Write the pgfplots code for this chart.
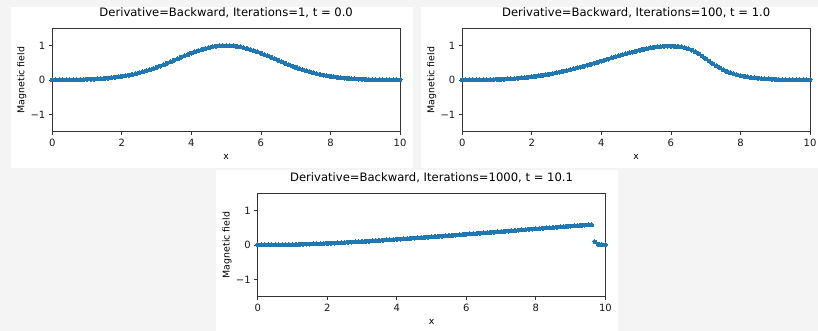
\documentclass[border=0pt]{standalone}
\usepackage{fontspec}
\setmainfont{DejaVu Sans}
\usepackage{pgfplots}
\pgfplotsset{compat=1.18}
\usepackage{pgfplotstable}
\definecolor{mplblue}{HTML}{1F77B4}
\definecolor{bggray}{RGB}{244,244,244}

\pgfplotstableread{
x y
0.0 0.0019
0.1 0.0025
0.2 0.0032
0.3 0.0040
0.4 0.0050
0.5 0.0063
0.6 0.0079
0.7 0.0098
0.8 0.0122
0.9 0.0150
1.0 0.0183
1.1 0.0223
1.2 0.0270
1.3 0.0326
1.4 0.0392
1.5 0.0468
1.6 0.0556
1.7 0.0657
1.8 0.0773
1.9 0.0905
2.0 0.1054
2.1 0.1222
2.2 0.1409
2.3 0.1616
2.4 0.1845
2.5 0.2096
2.6 0.2369
2.7 0.2665
2.8 0.2982
2.9 0.3320
3.0 0.3679
3.1 0.4056
3.2 0.4449
3.3 0.4856
3.4 0.5273
3.5 0.5698
3.6 0.6126
3.7 0.6554
3.8 0.6977
3.9 0.7390
4.0 0.7788
4.1 0.8167
4.2 0.8521
4.3 0.8847
4.4 0.9139
4.5 0.9394
4.6 0.9608
4.7 0.9778
4.8 0.9900
4.9 0.9975
5.0 1.0000
5.1 0.9975
5.2 0.9900
5.3 0.9778
5.4 0.9608
5.5 0.9394
5.6 0.9139
5.7 0.8847
5.8 0.8521
5.9 0.8167
6.0 0.7788
6.1 0.7390
6.2 0.6977
6.3 0.6554
6.4 0.6126
6.5 0.5698
6.6 0.5273
6.7 0.4856
6.8 0.4449
6.9 0.4056
7.0 0.3679
7.1 0.3320
7.2 0.2982
7.3 0.2665
7.4 0.2369
7.5 0.2096
7.6 0.1845
7.7 0.1616
7.8 0.1409
7.9 0.1222
8.0 0.1054
8.1 0.0905
8.2 0.0773
8.3 0.0657
8.4 0.0556
8.5 0.0468
8.6 0.0392
8.7 0.0326
8.8 0.0270
8.9 0.0223
9.0 0.0183
9.1 0.0150
9.2 0.0122
9.3 0.0098
9.4 0.0079
9.5 0.0063
9.6 0.0050
9.7 0.0040
9.8 0.0032
9.9 0.0025
10.0 0.0019
}\tableA

\pgfplotstableread{
x y
0.0 0.0019
0.1 0.0025
0.2 0.0032
0.3 0.0040
0.4 0.0050
0.5 0.0062
0.6 0.0078
0.7 0.0096
0.8 0.0119
0.9 0.0145
1.0 0.0177
1.1 0.0214
1.2 0.0257
1.3 0.0308
1.4 0.0366
1.5 0.0433
1.6 0.0509
1.7 0.0595
1.8 0.0691
1.9 0.0798
2.0 0.0916
2.1 0.1046
2.2 0.1188
2.3 0.1343
2.4 0.1508
2.5 0.1685
2.6 0.1875
2.7 0.2075
2.8 0.2288
2.9 0.2511
3.0 0.2745
3.1 0.2985
3.2 0.3237
3.3 0.3497
3.4 0.3770
3.5 0.4041
3.6 0.4321
3.7 0.4606
3.8 0.4900
3.9 0.5189
4.0 0.5490
4.1 0.5790
4.2 0.6090
4.3 0.6390
4.4 0.6690
4.5 0.6980
4.6 0.7271
4.7 0.7564
4.8 0.7846
4.9 0.8122
5.0 0.8390
5.1 0.8642
5.2 0.8884
5.3 0.9100
5.4 0.9300
5.5 0.9470
5.6 0.9600
5.7 0.9700
5.8 0.9770
5.9 0.9810
6.0 0.9820
6.1 0.9790
6.2 0.9720
6.3 0.9580
6.4 0.9370
6.5 0.9080
6.6 0.8700
6.7 0.8220
6.8 0.7630
6.9 0.6960
7.0 0.6230
7.1 0.5500
7.2 0.4790
7.3 0.4130
7.4 0.3530
7.5 0.3000
7.6 0.2540
7.7 0.2150
7.8 0.1810
7.9 0.1520
8.0 0.1270
8.1 0.1060
8.2 0.0890
8.3 0.0740
8.4 0.0620
8.5 0.0510
8.6 0.0420
8.7 0.0350
8.8 0.0290
8.9 0.0230
9.0 0.0190
9.1 0.0150
9.2 0.0125
9.3 0.0100
9.4 0.0080
9.5 0.0064
9.6 0.0051
9.7 0.0041
9.8 0.0032
9.9 0.0025
10.0 0.0020
}\tableB

\pgfplotstableread{
x y
0.0 0.0019
0.1 0.0024
0.2 0.0030
0.3 0.0037
0.4 0.0046
0.5 0.0057
0.6 0.0069
0.7 0.0083
0.8 0.0100
0.9 0.0118
1.0 0.0140
1.1 0.0163
1.2 0.0187
1.3 0.0216
1.4 0.0247
1.5 0.0280
1.6 0.0316
1.7 0.0354
1.8 0.0394
1.9 0.0437
2.0 0.0481
2.1 0.0527
2.2 0.0575
2.3 0.0625
2.4 0.0677
2.5 0.0730
2.6 0.0784
2.7 0.0840
2.8 0.0897
2.9 0.0956
3.0 0.1016
3.1 0.1076
3.2 0.1138
3.3 0.1201
3.4 0.1264
3.5 0.1329
3.6 0.1394
3.7 0.1461
3.8 0.1527
3.9 0.1595
4.0 0.1663
4.1 0.1732
4.2 0.1801
4.3 0.1871
4.4 0.1942
4.5 0.2013
4.6 0.2084
4.7 0.2156
4.8 0.2229
4.9 0.2302
5.0 0.2375
5.1 0.2449
5.2 0.2523
5.3 0.2597
5.4 0.2671
5.5 0.2747
5.6 0.2822
5.7 0.2898
5.8 0.2973
5.9 0.3050
6.0 0.3126
6.1 0.3203
6.2 0.3280
6.3 0.3356
6.4 0.3434
6.5 0.3511
6.6 0.3589
6.7 0.3667
6.8 0.3745
6.9 0.3824
7.0 0.3902
7.1 0.3980
7.2 0.4059
7.3 0.4138
7.4 0.4217
7.5 0.4296
7.6 0.4375
7.7 0.4454
7.8 0.4534
7.9 0.4613
8.0 0.4693
8.1 0.4773
8.2 0.4853
8.3 0.4932
8.4 0.5012
8.5 0.5092
8.6 0.5170
8.7 0.5248
8.8 0.5325
8.9 0.5400
9.0 0.5475
9.1 0.5548
9.2 0.5618
9.3 0.5685
9.4 0.5750
9.5 0.5810
9.6 0.5860
9.7 0.0960
9.8 0.0200
9.9 0.0120
10.0 0.0080
}\tableC

\pgfplotsset{
  panel/.style={
    scale only axis, width=347.7pt, height=103.4pt,
    xmin=0, xmax=10, ymin=-1.5, ymax=1.5,
    xtick={0,2,4,6,8,10}, ytick={-1,0,1}, yticklabels={−1,0,1},
    tick align=outside, tick pos=left,
    major tick length=3.5pt,
    axis line style={black!80, line width=0.8pt},
    every tick/.style={black!80, line width=0.8pt},
    tick label style={font=\fontsize{10}{12}\selectfont, text=black!90},
    /pgf/number format/assume math mode=true,
    xlabel={x}, ylabel={Magnetic field},
    label style={font=\fontsize{9.4}{11}\selectfont},
    xlabel style={at={(axis description cs:0.5,-0.2418)}, anchor=center},
    ylabel style={at={(axis description cs:-0.088,0.5)}, anchor=center},
    title style={at={(axis description cs:0.5,1.09)}, anchor=center, font=\fontsize{11.6}{13}\selectfont},
    clip=false,
  },
  dots/.style={only marks, mark=*, mark size=2pt, color=mplblue, mark options={fill=mplblue, draw=mplblue, line width=0pt}},
}

\begin{document}
\begin{tikzpicture}
\useasboundingbox (0,0) rectangle (818pt,331pt);
\fill[bggray] (0,0) rectangle (818pt,331pt);
\fill[white] (11pt,163pt) rectangle (413pt,324.3pt);
\fill[white] (421pt,163pt) rectangle (818pt,324.3pt);
\fill[white] (216pt,0pt) rectangle (618pt,161pt);

\begin{axis}[panel, at={(52.3pt,199.3pt)}, anchor=south west,
  title={Derivative=Backward, Iterations=1, t = 0.0}]
\addplot[dots] table[x=x,y=y] {\tableA};
\end{axis}

\begin{axis}[panel, at={(462.3pt,199.3pt)}, anchor=south west,
  title={Derivative=Backward, Iterations=100, t = 1.0}]
\addplot[dots] table[x=x,y=y] {\tableB};
\end{axis}

\begin{axis}[panel, at={(257.7pt,34.3pt)}, anchor=south west,
  title={Derivative=Backward, Iterations=1000, t = 10.1}]
\addplot[dots] table[x=x,y=y] {\tableC};
\end{axis}
\end{tikzpicture}
\end{document}
